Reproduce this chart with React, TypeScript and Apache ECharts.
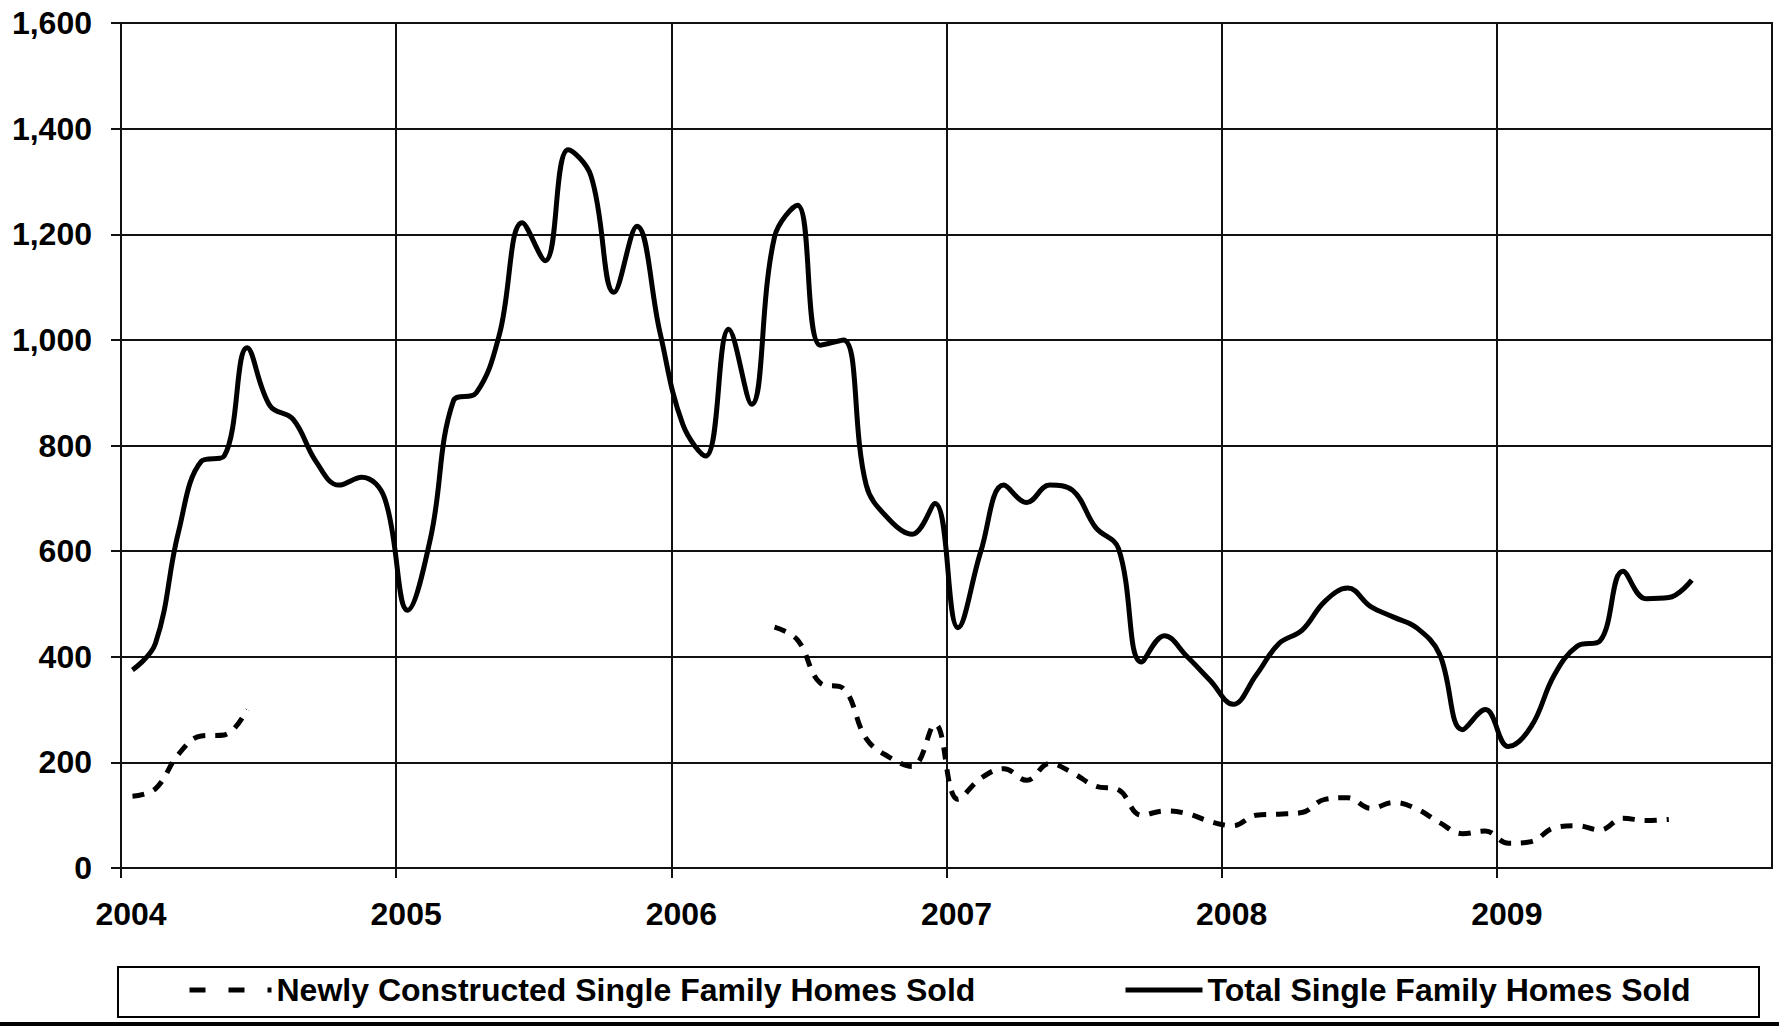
import React, { useEffect, useRef } from "react";
import * as echarts from "echarts";

const months = [
  "2004-01","2004-02","2004-03","2004-04","2004-05","2004-06","2004-07","2004-08","2004-09","2004-10","2004-11","2004-12",
  "2005-01","2005-02","2005-03","2005-04","2005-05","2005-06","2005-07","2005-08","2005-09","2005-10","2005-11","2005-12",
  "2006-01","2006-02","2006-03","2006-04","2006-05","2006-06","2006-07","2006-08","2006-09","2006-10","2006-11","2006-12",
  "2007-01","2007-02","2007-03","2007-04","2007-05","2007-06","2007-07","2007-08","2007-09","2007-10","2007-11","2007-12",
  "2008-01","2008-02","2008-03","2008-04","2008-05","2008-06","2008-07","2008-08","2008-09","2008-10","2008-11","2008-12",
  "2009-01","2009-02","2009-03","2009-04","2009-05","2009-06","2009-07","2009-08","2009-09",
];

const totalSold = [
  375, 425, 635, 770, 780, 985, 875, 850, 770, 725, 740, 700,
  488, 625, 885, 900, 1010, 1222, 1150, 1360, 1310, 1090, 1215, 1015,
  840, 780, 1020, 878, 1195, 1255, 990, 1000, 725, 660, 632, 690,
  455, 600, 725, 692, 725, 715, 645, 605, 390, 440, 400, 355,
  310, 365, 425, 450, 505, 530, 495, 475, 455, 405, 262, 300,
  230, 268, 365, 420, 430, 562, 510, 512, 545,
];

const newSold: (number | null)[] = [
  136, 150, 215, 250, 252, 300, null, null, null, null, null, null,
  null, null, null, null, null, null, null, null, null, null, null, null,
  null, null, null, null, 456, 432, 350, 340, 245, 210, 192, 272,
  130, 170, 188, 166, 198, 180, 155, 148, 100, 108, 103, 88,
  80, 100, 102, 105, 130, 133, 113, 124, 112, 86, 65, 70,
  47, 50, 76, 80, 72, 94, 90, 92, null,
];

const yearTicks = [2004, 2005, 2006, 2007, 2008, 2009];
const seriesNames = ["Newly Constructed Single Family Homes Sold", "Total Single Family Homes Sold"];

const FONT = "'Liberation Sans', Arial, sans-serif";

function monthToX(m: string): number {
  const [y, mo] = m.split("-").map(Number);
  return y + (mo - 0.5) / 12;
}

export default function App() {
  const ref = useRef<HTMLDivElement>(null);
  useEffect(() => {
    if (!ref.current) return;
    const chart = echarts.init(ref.current, undefined, { renderer: "svg" });
    const totalData = months.map((m, i) => [monthToX(m), totalSold[i]]);
    const newData = months.map((m, i) => [monthToX(m), newSold[i] === null ? null : newSold[i]]);
    const legendText = { fontFamily: FONT, fontSize: 32, fontWeight: "bold", color: "#000", lineHeight: 32 };
    chart.setOption({
      animation: false,
      backgroundColor: "#fff",
      textStyle: { fontFamily: FONT },
      grid: {
        left: 121, right: 7, top: 23, bottom: 158,
        show: true, borderColor: "#111", borderWidth: 2,
      },
      xAxis: {
        type: "value",
        min: 2004, max: 2010, interval: 1,
        axisLine: { show: true, lineStyle: { color: "#111", width: 2 } },
        axisTick: { show: true, length: 10, lineStyle: { color: "#111", width: 2 } },
        splitLine: { show: true, lineStyle: { color: "#111", width: 2 } },
        axisLabel: {
          margin: 30,
          color: "#000",
          fontFamily: FONT,
          fontSize: 32,
          fontWeight: "bold",
          lineHeight: 32,
          padding: [0, 0, 0, 20],
          formatter: (v: number) => (yearTicks.includes(Math.round(v)) ? String(Math.round(v)) : ""),
          showMaxLabel: false,
        },
      },
      yAxis: {
        type: "value",
        min: 0, max: 1600, interval: 200,
        axisLine: { show: true, lineStyle: { color: "#111", width: 2 } },
        axisTick: { show: true, length: 10, lineStyle: { color: "#111", width: 2 } },
        splitLine: { show: true, lineStyle: { color: "#111", width: 2 } },
        axisLabel: {
          margin: 29,
          color: "#000",
          fontFamily: FONT,
          fontSize: 32,
          fontWeight: "bold",
          formatter: (v: number) => v.toLocaleString("en-US"),
        },
      },
      legend: [
        {
          data: [seriesNames[0]],
          left: 187, top: 974, padding: 0,
          itemWidth: 82, itemHeight: 14,
          lineStyle: { type: [16, 23], width: 5, color: "#000" },
          itemStyle: { opacity: 0 },
          textStyle: legendText,
        },
        {
          data: [seriesNames[1]],
          left: 1123, top: 974, padding: 0,
          itemWidth: 77, itemHeight: 14,
          lineStyle: { width: 5, color: "#000" },
          itemStyle: { opacity: 0 },
          textStyle: legendText,
        },
      ],
      graphic: [
        {
          type: "rect",
          shape: { x: 118, y: 967, width: 1641, height: 50 },
          style: { fill: "none", stroke: "#000", lineWidth: 2 },
          silent: true,
        },
        {
          type: "rect",
          shape: { x: 0, y: 1022, width: 1779, height: 4 },
          style: { fill: "#000" },
          silent: true,
        },
      ],
      series: [
        {
          name: seriesNames[0],
          type: "line",
          data: newData,
          smooth: 0.4,
          symbol: "none",
          connectNulls: false,
          lineStyle: { color: "#000", width: 5, type: [12, 10] },
          itemStyle: { color: "#000" },
        },
        {
          name: seriesNames[1],
          type: "line",
          data: totalData,
          smooth: 0.4,
          symbol: "none",
          lineStyle: { color: "#000", width: 5 },
          itemStyle: { color: "#000" },
        },
      ],
    });
    return () => chart.dispose();
  }, []);
  return (
    <div
      ref={ref}
      style={{ position: "absolute", left: 0, top: 0, width: 1779, height: 1026, background: "#fff" }}
    />
  );
}
